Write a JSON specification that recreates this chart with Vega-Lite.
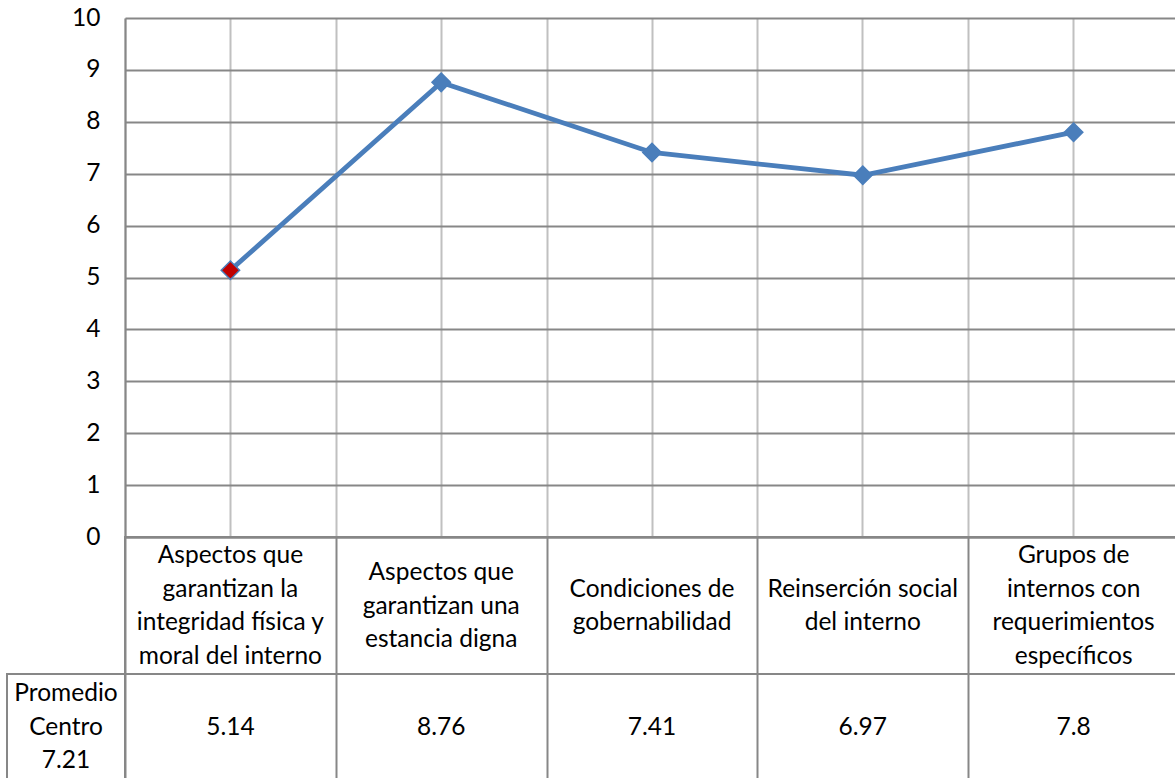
{
  "$schema": "https://vega.github.io/schema/vega-lite/v6.json",
  "padding": {"left": 6, "top": 5, "right": 0, "bottom": 0},
  "background": "white",
  "datasets": {
    "puntajes": [
      {"categoria": "Aspectos que\ngarantizan la\nintegridad física y\nmoral del interno", "valor": 5.14},
      {"categoria": "Aspectos que\ngarantizan una\nestancia digna", "valor": 8.76},
      {"categoria": "Condiciones de\ngobernabilidad", "valor": 7.41},
      {"categoria": "Reinserción social\ndel interno", "valor": 6.97},
      {"categoria": "Grupos de\ninternos con\nrequerimientos\nespecíficos", "valor": 7.8}
    ],
    "promedio": [
      {"etiqueta": "Promedio\nCentro\n7.21"}
    ]
  },
  "concat": [
    {
      "width": 118, "height": 519,
      "view": {"stroke": null},
      "data": {"values": [{}]},
      "mark": {"type": "text"},
      "encoding": {"text": {"value": ""}}
    },
    {
      "width": 1054, "height": 519,
      "data": {"name": "puntajes"},
      "encoding": {
        "y": {
          "field": "valor", "type": "quantitative",
          "scale": {"domain": [0, 10], "nice": false, "zero": true},
          "axis": {
            "values": [0, 1, 2, 3, 4, 5, 6, 7, 8, 9, 10],
            "grid": true, "gridColor": "#878787", "gridWidth": 2,
            "domain": true, "domainColor": "#878787", "domainWidth": 2,
            "ticks": false, "tickSize": 0,
            "labelPadding": 25, "labelFontSize": 24.5, "labelFont": "Lato",
            "labelColor": "#000000", "title": null
          }
        }
      },
      "layer": [
        {
          "mark": {"type": "line", "color": "#4a7ebb", "strokeWidth": 4.8},
          "encoding": {
            "x": {
              "field": "categoria", "type": "nominal", "sort": null,
              "scale": {"type": "band", "paddingInner": 0, "paddingOuter": 0},
              "axis": {
                "orient": "bottom", "grid": true, "tickBand": "extent",
                "gridColor": "#c0c0c0", "gridWidth": 2,
                "domain": true, "domainColor": "#878787", "domainWidth": 2,
                "ticks": false, "labels": false, "title": null
              }
            }
          }
        },
        {
          "mark": {"type": "point", "shape": "diamond", "filled": true, "size": 340, "opacity": 1, "stroke": "#4a7ebb", "strokeWidth": 1.5},
          "encoding": {
            "x": {
              "field": "categoria", "type": "nominal", "sort": null,
              "axis": {
                "orient": "top", "grid": true,
                "gridColor": "#c0c0c0", "gridWidth": 2,
                "domain": false, "ticks": false, "labels": false, "title": null
              }
            },
            "fill": {
              "condition": {"test": "datum.valor < 6", "value": "#c00000"},
              "value": "#4a7ebb"
            }
          }
        }
      ],
      "resolve": {"axis": {"x": "independent"}}
    },
    {
      "width": 118, "height": 137,
      "view": {"stroke": null},
      "data": {"values": [{}]},
      "mark": {"type": "text"},
      "encoding": {"text": {"value": ""}}
    },
    {
      "width": 1054, "height": 137,
      "view": {"stroke": "#878787", "strokeWidth": 2},
      "data": {"name": "puntajes"},
      "mark": {
        "type": "text", "font": "Lato", "fontSize": 24.5, "lineBreak": "\n", "lineHeight": 33.5,
        "baseline": "middle", "align": "center", "color": "#000000",
        "dy": {"expr": "-(length(split(datum.categoria, '\\n')) - 1) * 16.75 + 1"}
      },
      "encoding": {
        "x": {
          "field": "categoria", "type": "nominal", "sort": null,
          "scale": {"type": "band", "paddingInner": 0, "paddingOuter": 0},
          "axis": {
            "orient": "bottom", "grid": true, "tickBand": "extent",
            "gridColor": "#878787", "gridWidth": 2,
            "domain": false, "ticks": false, "labels": false, "title": null
          }
        },
        "text": {"field": "categoria", "type": "nominal"}
      }
    },
    {
      "width": 118, "height": 110,
      "view": {"stroke": "#878787", "strokeWidth": 2},
      "data": {"name": "promedio"},
      "mark": {"type": "text", "font": "Lato", "fontSize": 24.5, "lineBreak": "\n", "lineHeight": 33.5, "baseline": "middle", "align": "center", "color": "#000000", "dy": -35},
      "encoding": {
        "text": {"field": "etiqueta", "type": "nominal"}
      }
    },
    {
      "width": 1054, "height": 110,
      "view": {"stroke": "#878787", "strokeWidth": 2},
      "data": {"name": "puntajes"},
      "mark": {"type": "text", "font": "Lato", "fontSize": 24.5, "baseline": "middle", "align": "center", "color": "#000000", "dy": -1},
      "encoding": {
        "x": {
          "field": "categoria", "type": "nominal", "sort": null,
          "scale": {"type": "band", "paddingInner": 0, "paddingOuter": 0},
          "axis": {
            "orient": "bottom", "grid": true, "tickBand": "extent",
            "gridColor": "#878787", "gridWidth": 2,
            "domain": false, "ticks": false, "labels": false, "title": null
          }
        },
        "text": {"field": "valor", "type": "quantitative"}
      }
    }
  ],
  "columns": 2,
  "spacing": 0,
  "bounds": "flush",
  "align": "each",
  "config": {
    "view": {"stroke": null},
    "font": "Lato"
  }
}
